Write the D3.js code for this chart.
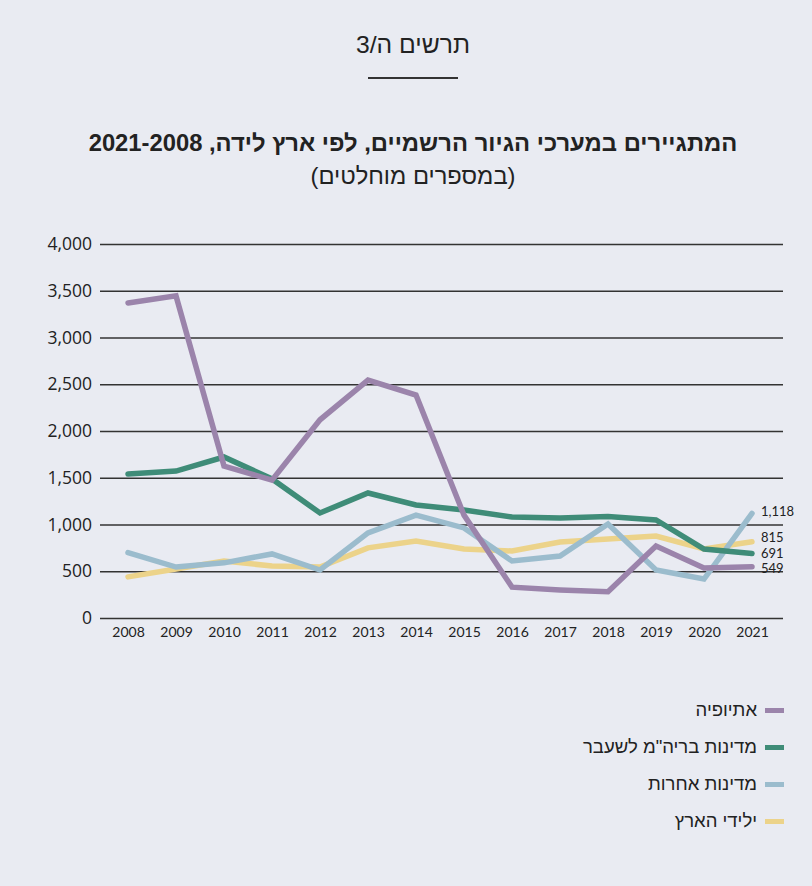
<!DOCTYPE html>
<html><head><meta charset="utf-8">
<script src="https://cdn.jsdelivr.net/npm/d3@7/dist/d3.min.js"></script>
<style>
html,body{margin:0;padding:0;background:#e9ebf2;}
svg{display:block;}
text{font-family:"Lato","Open Sans",sans-serif;fill:#222;}
.he{font-family:"Liberation Sans","Arial",sans-serif;}
</style></head>
<body>
<svg id="c" width="812" height="886"></svg>
<script>
const years = [2008,2009,2010,2011,2012,2013,2014,2015,2016,2017,2018,2019,2020,2021];
const ethiopia = [3370,3445,1625,1475,2120,2545,2385,1100,330,300,280,770,535,549];
const formerUSSR = [1540,1572,1722,1487,1123,1337,1209,1155,1080,1070,1085,1048,738,691];
const otherCountries = [700,545,590,685,513,910,1100,963,610,663,1005,513,417,1118];
const israelBorn = [440,524,610,556,545,750,824,738,717,813,845,877,738,815];
const seriesNames = ["אתיופיה","מדינות בריה\"מ לשעבר","מדינות אחרות","ילידי הארץ"];
const seriesColors = ["#9b84ab","#3f8c78","#9bbccd","#ecd38a"];
const yTicks = [0,500,1000,1500,2000,2500,3000,3500,4000];
const endLabels = ["549","691","1,118","815"];

const series = [ethiopia, formerUSSR, otherCountries, israelBorn];
const svg = d3.select("#c");
const x = d3.scalePoint().domain(years).range([128,752]);
const y = d3.scaleLinear().domain([0,4000]).range([618,244]);

function fit(sel, w){
  const n = sel.node();
  const cur = n.getComputedTextLength();
  const fs = parseFloat(sel.attr("font-size"));
  sel.attr("font-size", (fs*w/cur).toFixed(2));
}

// header
const t0 = svg.append("text").attr("class","he").attr("x",413).attr("y",53).attr("text-anchor","middle")
  .attr("font-size",20).attr("fill","#444").attr("direction","rtl").text("תרשים ה/3");
fit(t0,114);
svg.append("line").attr("x1",368).attr("x2",458).attr("y1",78).attr("y2",78)
  .attr("stroke","#333").attr("stroke-width",2);
const t1 = svg.append("text").attr("class","he").attr("x",413).attr("y",151).attr("text-anchor","middle")
  .attr("font-size",21).attr("font-weight",700).attr("direction","rtl").attr("fill","#1c1c1c")
  .text("המתגיירים במערכי הגיור הרשמיים, לפי ארץ לידה, 2021-2008");
fit(t1,649);
const t2 = svg.append("text").attr("class","he").attr("x",413).attr("y",184).attr("text-anchor","middle")
  .attr("font-size",20).attr("fill","#222").attr("direction","rtl")
  .text("(במספרים מוחלטים)");
fit(t2,205);

// grid
const yAxis = d3.axisLeft(y).tickValues(yTicks).tickSize(-683).tickFormat(d3.format(","));
const gy = svg.append("g").attr("transform","translate(100,0)").call(yAxis);
gy.select(".domain").remove();
gy.selectAll(".tick line").attr("stroke","#333").attr("stroke-width",1.5);
gy.selectAll(".tick text").attr("x",-8).attr("font-size",17.5).attr("fill","#222")
  .style("font-family","'Open Sans', sans-serif");

const xAxis = d3.axisBottom(x).tickSize(0).tickPadding(9);
const gx = svg.append("g").attr("transform","translate(0,618)").call(xAxis);
gx.select(".domain").remove();
gx.selectAll(".tick text").attr("font-size",14).attr("fill","#222").style("font-family","Lato, sans-serif");

// lines
const line = d3.line().x((d,i)=>x(years[i])).y(d=>y(d));
const order = [3,2,1,0];
order.forEach(k=>{
  svg.append("path").datum(series[k]).attr("d",line).attr("fill","none")
    .attr("stroke",seriesColors[k]).attr("stroke-width",5.5)
    .attr("stroke-linejoin","miter").attr("stroke-linecap","round");
});

// end labels
const endY = [568,553,511,537];
series.forEach((s,k)=>{
  svg.append("text").attr("x",761).attr("y",endY[k]+5).attr("font-size",13)
    .attr("fill","#222").text(endLabels[k]);
});

// legend
seriesNames.forEach((n,k)=>{
  const ly = 710 + k*37;
  svg.append("rect").attr("x",765).attr("y",ly-2).attr("width",19).attr("height",5).attr("fill",seriesColors[k]);
  svg.append("text").attr("class","he").attr("x",757).attr("y",ly+6).attr("text-anchor","start")
    .attr("font-size",18.5).attr("direction","rtl").attr("fill","#222").text(n);
});
</script>
</body></html>
